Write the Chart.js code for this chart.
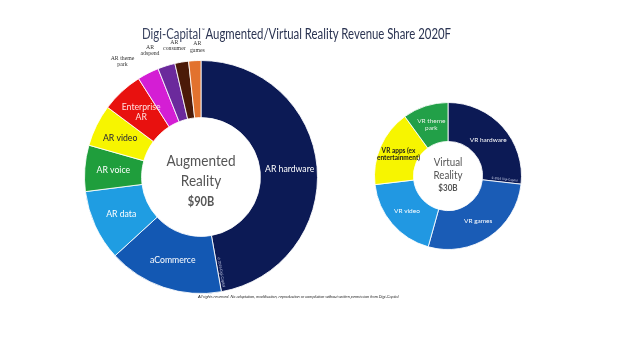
<!DOCTYPE html>
<html><head><meta charset="utf-8">
<script src="https://cdn.jsdelivr.net/npm/chart.js@4/dist/chart.umd.min.js"></script>
<style>
html,body{margin:0;padding:0;background:#fff;width:622px;height:337px;overflow:hidden;position:relative;font-family:Lato,'Open Sans',sans-serif}
canvas{position:absolute;left:0;top:0}
.t{position:absolute;white-space:nowrap;transform-origin:0 50%}
.ctr{position:absolute;text-align:center;color:#555;transform-origin:50% 50%}
</style></head><body>
<canvas id="ar" width="622" height="337"></canvas>
<canvas id="vr" width="622" height="337"></canvas>
<div class="t" id="title" style="left:142px;top:21px;font-size:14.5px;line-height:18px;color:#2b3452;transform:scaleX(0.785)"><span style="color:#3a4360">Digi-Capital</span><span style="font-size:5px;vertical-align:7px;margin:0 1px">™</span>Augmented/Virtual Reality Revenue Share 2020F</div>
<div class="ctr" style="left:131px;top:150px;width:140px;font-size:16px;line-height:20px;transform:scaleX(0.85)">Augmented<br>Reality<br><span style="font-size:13px;font-weight:bold;line-height:19px">$90B</span></div>
<div class="ctr" style="left:398px;top:156px;width:100px;font-size:11.5px;line-height:12.5px;transform:scaleX(0.85)">Virtual<br>Reality<br><span style="font-size:9.5px;font-weight:bold;line-height:14px">$30B</span></div>
<div class="t" style="left:198px;top:295px;font-size:3.8px;font-style:italic;font-family:'Liberation Sans',Arial,sans-serif;color:#222">All rights reserved. No adaptation, modification, reproduction or compilation without written permission from Digi-Capital</div>
<script>
// ---- Data (share of 2020F revenue, %) ----
const arCategories = ['AR hardware','aCommerce','AR data','AR voice','AR video','Enterprise AR','AR theme park','AR adspend','AR consumer','AR games'];
const arShares = [47.2, 16.0, 9.8, 6.4, 5.8, 5.8, 3.0, 2.4, 1.9, 1.7];
const arLabelLines = [['AR hardware'],['aCommerce'],['AR data'],['AR voice'],['AR video'],['Enterprise','AR'],['AR theme','park'],['AR','adspend'],['AR','consumer'],['AR','games']];
const vrCategories = ['VR hardware','VR games','VR video','VR apps (ex entertainment)','VR theme park'];
const vrShares = [26.8, 27.6, 18.8, 16.9, 10.0];
const vrLabelLines = [['VR hardware'],['VR games'],['VR video'],['VR apps (ex','entertainment)'],['VR theme','park']];
const copyrightNote = '\u00A9 2016 Digi-Capital';

const segLabels = {
  id: 'segLabels',
  afterDatasetsDraw(chart, args, o) {
    if (!o || !o.lines) return;
    const ctx = chart.ctx;
    const meta = chart.getDatasetMeta(0);
    ctx.save();
    ctx.textBaseline = 'middle';
    meta.data.forEach((arc, i) => {
      const p = arc.getProps(['x','y','startAngle','endAngle','innerRadius','outerRadius'], true);
      const mid = (p.startAngle + p.endAngle) / 2;
      const lines = o.lines[i];
      const outer = o.outside[i];
      const fs = outer ? o.outerSize : o.size;
      ctx.font = `${o.weights[i] || 'normal'} ${fs}px ${outer ? o.outerFamily : o.family}`;
      ctx.fillStyle = o.colors[i];
      const lh = fs * 1.12;
      const nudge = (o.nudge && o.nudge[i]) || [0, 0];
      ctx.textAlign = 'center';
      if (outer) {
        const r = p.outerRadius + o.outerGap;
        const ax = p.x + Math.cos(mid) * r + nudge[0], ay = p.y + Math.sin(mid) * r + nudge[1];
        lines.forEach((ln, k) => ctx.fillText(ln, ax, ay - (lines.length - 1 - k) * lh - lh / 2));
      } else {
        const r = (p.innerRadius + p.outerRadius) / 2;
        const ax = p.x + Math.cos(mid) * r + nudge[0], ay = p.y + Math.sin(mid) * r + nudge[1];
        const y0 = ay - (lines.length - 1) * lh / 2;
        lines.forEach((ln, k) => ctx.fillText(ln, ax, y0 + k * lh));
      }
    });
    // small copyright note along the end edge of the first segment
    if (o.note) {
      const a = meta.data[0].getProps(['x','y','endAngle','innerRadius','outerRadius'], true);
      ctx.save();
      ctx.translate(a.x, a.y);
      ctx.rotate(a.endAngle);
      ctx.font = `${o.noteSize}px 'Liberation Sans', sans-serif`;
      ctx.fillStyle = 'rgba(230,235,255,0.85)';
      ctx.textAlign = 'right';
      ctx.textBaseline = 'bottom';
      ctx.fillText(o.note, a.outerRadius - 4, -1.5);
      ctx.restore();
    }
    ctx.restore();
  }
};

function makeChart(id, cats, vals, colors, pad, cutout, labelOpts) {
  return new Chart(document.getElementById(id), {
    type: 'doughnut',
    data: { labels: cats, datasets: [{ data: vals, backgroundColor: colors, borderColor: 'rgba(255,255,255,0.85)', borderWidth: 1 }] },
    options: {
      responsive: false, animation: false, events: [],
      cutout: cutout,
      layout: { padding: pad },
      plugins: { legend: { display: false }, tooltip: { enabled: false }, segLabels: labelOpts }
    },
    plugins: [segLabels]
  });
}

makeChart('ar', arCategories, arShares,
  ['#0c1a55','#1358b3','#1f9de2','#1f9e3c','#f7f500','#e8110f','#d41ed4','#6b2a9c','#4b1a08','#e2722e'],
  { left: 84, right: 304, top: 60, bottom: 43 }, '51%',
  { lines: arLabelLines,
    outside: [false,false,false,false,false,false,true,true,true,true],
    colors: ['#ffffff','#ffffff','#ffffff','#ffffff','#1c1c3a','#ffe0e0','#333333','#333333','#333333','#333333'],
    weights: [],
    nudge: [[1,0],[0,0],[0,0],[0,0],[-2,0],[0,0],[-22,2],[-14,-1],[-6,-2],[3,1]],
    size: 8.7, family: "Lato, 'Open Sans', sans-serif",
    outerSize: 5.8, outerFamily: "'Liberation Serif', serif", outerGap: 8,
    note: copyrightNote, noteSize: 3.5 });

makeChart('vr', vrCategories, vrShares,
  ['#0c1a55','#1a5cb6','#2198e2','#f7f500','#22a048'],
  { left: 374, right: 100, top: 102, bottom: 87 }, '47%',
  { lines: vrLabelLines,
    outside: [false,false,false,false,false],
    colors: ['#ffffff','#ffffff','#ffffff','#1c1c1c','#e8f0e8'],
    weights: ['normal','normal','normal','bold','normal'],
    size: 6.5, family: "Lato, 'Open Sans', sans-serif",
    outerSize: 6, outerFamily: 'serif', outerGap: 6,
    note: copyrightNote, noteSize: 3 });
</script>
</body></html>
